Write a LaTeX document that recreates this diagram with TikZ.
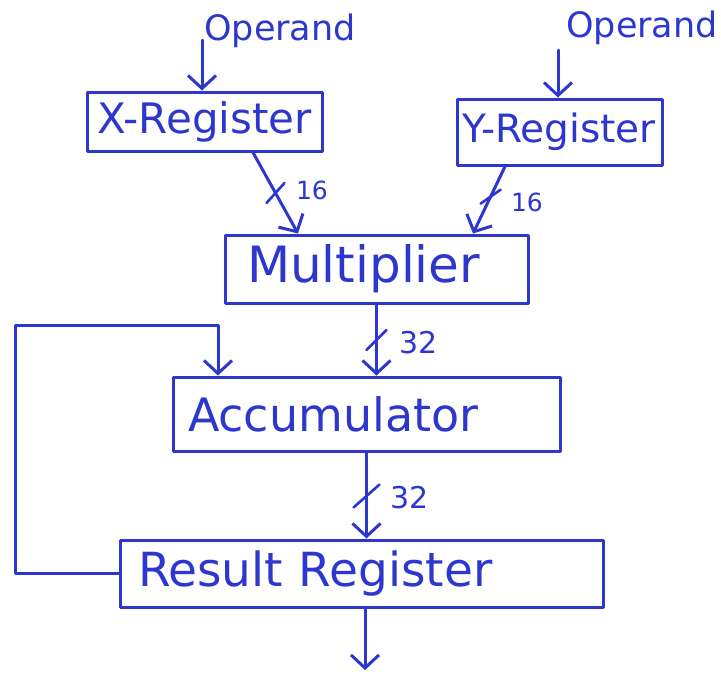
\documentclass[tikz,border=0pt]{standalone}
\usepackage{fontspec}
\setmainfont{DejaVu Sans}
\usetikzlibrary{arrows.meta}
\definecolor{ink}{RGB}{45,55,205}
\begin{document}
\begin{tikzpicture}[x=1pt,y=-1pt,
  every path/.style={ink,line width=3pt,line cap=round,line join=round},
  arr/.style={-{Straight Barb[length=13pt,width=28pt]}},
  box/.style={draw=ink,line width=3pt,text=ink,align=left,inner ysep=0pt},
  slashmark/.style={ink,line width=2.6pt},
  lbl/.style={text=ink,inner sep=0pt},
]
\useasboundingbox (0,0) rectangle (721,673);
\fill[white] (0,0) rectangle (721,673);

% boxes
\node[box,minimum width=235pt,minimum height=59pt,inner xsep=10pt,text width=215pt,font=\fontsize{42}{45}\selectfont] (xreg) at (204.5,121.5) {\mbox{X-Register}};
\node[box,minimum width=205pt,minimum height=66pt,inner xsep=5pt,text width=195pt,font=\fontsize{39}{42}\selectfont] (yreg) at (559.5,132) {\mbox{Y-Register}};
\node[box,minimum width=303pt,minimum height=68pt,inner xsep=22pt,text width=259pt,font=\fontsize{50}{54}\selectfont] (mult) at (376.5,269) {\mbox{Multiplier}};
\node[box,minimum width=387pt,minimum height=74pt,inner xsep=15pt,text width=357pt,font=\fontsize{46}{50}\selectfont] (acc) at (366.5,414) {\mbox{Accumulator}};
\node[box,minimum width=483pt,minimum height=67pt,inner xsep=18pt,text width=447pt,font=\fontsize{47}{50}\selectfont] (res) at (361.5,573.5) {\mbox{Result Register}};

% operand labels
\node[lbl,font=\fontsize{35}{38}\selectfont] (op1) at (280,31) {Operand};
\node[lbl,font=\fontsize{35}{38}\selectfont] (op2) at (642,28) {Operand};
\coordinate (in1) at (202,40);
\coordinate (in2) at (558,50);
\coordinate (out) at (365,670);
\coordinate (fb) at (15,325);

% input arrows
\draw[arr] (in1) -- (in1 |- xreg.north);
\draw[arr] (in2) -- (in2 |- yreg.north);

% registers to multiplier
\draw[arr] ([xshift=48.5pt]xreg.south) -- coordinate[pos=0.5] (s1) ([xshift=-78.5pt]mult.north);
\draw[slashmark] (s1) ++(-9,10) -- ++(18,-20);
\node[lbl,font=\fontsize{25}{27}\selectfont] (l1) at (312,190) {16};

\draw[arr] ([xshift=-54.5pt]yreg.south) -- coordinate[pos=0.45] (s2) ([xshift=96.5pt]mult.north);
\draw[slashmark] (s2) ++(-10,7) -- ++(20,-14);
\node[lbl,font=\fontsize{25}{27}\selectfont] (l2) at (527,202) {16};

% multiplier to accumulator
\draw[arr] (mult.south) -- coordinate[pos=0.5] (s3) (mult.south |- acc.north);
\draw[slashmark] (s3) ++(-10,10) -- ++(20,-20);
\node[lbl,font=\fontsize{30}{32}\selectfont] (l3) at (419,343) {32};

% accumulator to result
\draw[arr] (acc.south) -- coordinate[pos=0.5] (s4) (acc.south |- res.north);
\draw[slashmark] (s4) ++(-13,12) -- ++(26,-23);
\node[lbl,font=\fontsize{30}{32}\selectfont] (l4) at (410,498) {32};

% feedback loop
\draw[arr] (res.west) -| (fb) -| ([xshift=-148.5pt]acc.north);

% output
\draw[arr] (res.south -| out) -- (out);
\end{tikzpicture}
\end{document}
